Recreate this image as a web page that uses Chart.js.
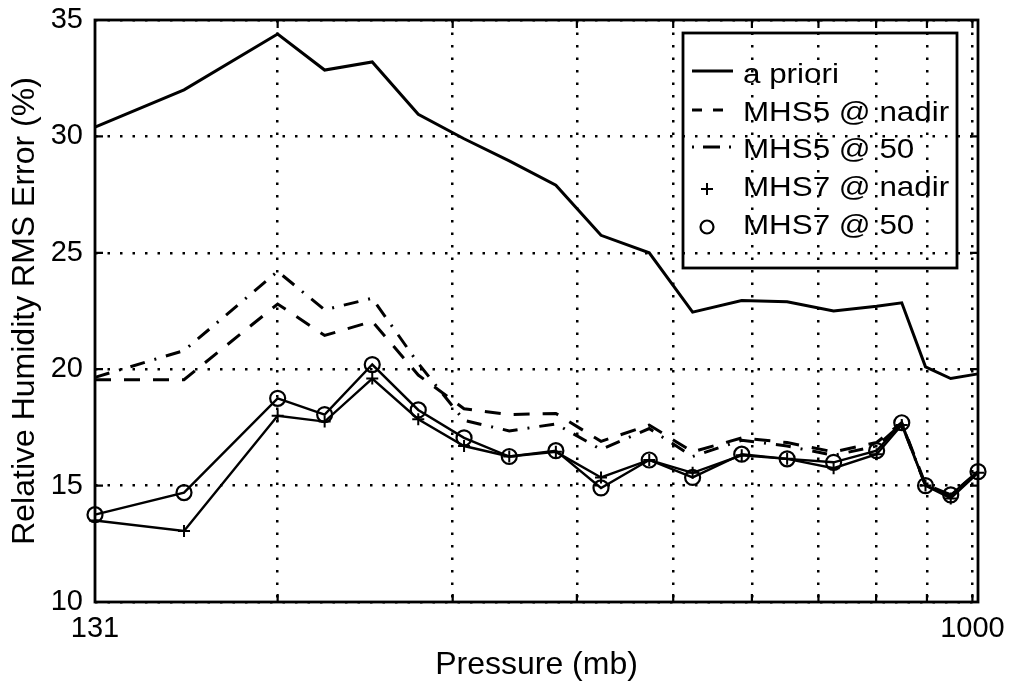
<!DOCTYPE html>
<html>
<head>
<meta charset="utf-8">
<title>Relative Humidity RMS Error</title>
<script src="https://cdn.jsdelivr.net/npm/chart.js@4.4.1/dist/chart.umd.min.js"></script>
<style>
  html, body { margin: 0; padding: 0; background: #fff; }
  #wrap { width: 1013px; height: 687px; }
</style>
</head>
<body>
<div id="wrap"><canvas id="chart" width="1013" height="687"></canvas></div>
<script>
// Pressure levels (mb) and RMS error (%) for each retrieval
const pressure  = [131, 161, 200, 223, 249, 277, 308, 342, 381, 423, 473, 523, 586, 651, 725, 801, 849, 897, 951, 1013];
const aPriori   = [30.4, 32.0, 34.4, 32.85, 33.2, 30.95, 29.9, 28.95, 27.9, 25.75, 25.0, 22.45, 22.95, 22.9, 22.5, 22.7, 22.85, 20.1, 19.6, 19.8];
const mhs5Nadir = [19.55, 19.55, 22.8, 21.45, 22.05, 19.75, 18.3, 18.05, 18.1, 16.9, 17.6, 16.45, 17.05, 16.85, 16.45, 16.85, 17.7, 15.05, 14.6, 15.6];
const mhs5At50  = [19.65, 20.8, 24.2, 22.55, 23.05, 20.25, 17.8, 17.35, 17.65, 16.55, 17.45, 16.25, 16.95, 16.7, 16.3, 16.7, 17.65, 15.0, 14.55, 15.6];
const mhs7Nadir = [13.5, 13.05, 18.0, 17.75, 19.6, 17.85, 16.7, 16.25, 16.45, 15.35, 16.1, 15.55, 16.3, 16.15, 15.75, 16.35, 17.6, 15.0, 14.45, 15.55];
const mhs7At50  = [13.75, 14.7, 18.75, 18.05, 20.2, 18.25, 17.05, 16.25, 16.5, 14.9, 16.1, 15.35, 16.35, 16.15, 16.0, 16.5, 17.7, 15.0, 14.6, 15.6];

const seriesNames = ['a priori', 'MHS5 @ nadir', 'MHS5 @ 50', 'MHS7 @ nadir', 'MHS7 @ 50'];
const xTicks    = [131, 200, 300, 400, 500, 600, 700, 800, 900, 1000];
const xLabelled = [131, 1000];
const yTicks    = [10, 15, 20, 25, 30, 35];

const FONT = '"Liberation Sans", Arial, Helvetica, sans-serif';
Chart.defaults.font.family = FONT;
Chart.defaults.color = '#000';

const pts = vals => pressure.map((p, i) => ({ x: p, y: vals[i] }));

// Box frame, inward tick marks and the in-plot legend
const framePlugin = {
  id: 'frame',
  afterDraw(chart) {
    const { ctx, chartArea: a, scales: { x, y } } = chart;
    ctx.save();
    ctx.strokeStyle = '#000';
    ctx.setLineDash([]);
    ctx.lineWidth = 2.8;
    ctx.strokeRect(a.left, a.top, a.right - a.left, a.bottom - a.top);

    const tl = 8;
    ctx.lineWidth = 2.2;
    ctx.beginPath();
    x.ticks.forEach(t => {
      if (t.value === xTicks[0]) return;
      const px = x.getPixelForValue(t.value);
      ctx.moveTo(px, a.bottom); ctx.lineTo(px, a.bottom - tl);
      ctx.moveTo(px, a.top);    ctx.lineTo(px, a.top + tl);
    });
    y.ticks.forEach(t => {
      const py = y.getPixelForValue(t.value);
      ctx.moveTo(a.left, py);  ctx.lineTo(a.left + tl, py);
      ctx.moveTo(a.right, py); ctx.lineTo(a.right - tl, py);
    });
    ctx.stroke();

    // legend
    const bx = a.right - 295, by = a.top + 13, bw = 274, bh = 235;
    ctx.lineWidth = 2.8;
    ctx.strokeRect(bx, by, bw, bh);
    ctx.beginPath();
    ctx.rect(bx + 1, by + 1, bw - 2, bh - 2);
    ctx.clip();

    const baselines = [50, 88, 125, 163, 201];
    const sx0 = bx + 9, sx1 = bx + 50, mx = bx + 24, tx = bx + 60;
    chart.data.datasets.forEach((ds, i) => {
      const base = by + baselines[i];
      ctx.save();
      ctx.strokeStyle = '#000';
      if (i === 0) {
        ctx.lineWidth = 3; ctx.setLineDash([]);
        ctx.beginPath(); ctx.moveTo(sx0, base - 12); ctx.lineTo(sx1, base - 12); ctx.stroke();
      } else if (i === 1) {
        ctx.lineWidth = 3; ctx.setLineDash([10, 11]);
        ctx.beginPath(); ctx.moveTo(sx0, base - 11); ctx.lineTo(sx0 + 31, base - 11); ctx.stroke();
      } else if (i === 2) {
        ctx.lineWidth = 3; ctx.setLineDash([2, 9, 17, 9, 2, 20]);
        ctx.beginPath(); ctx.moveTo(sx0, base - 11); ctx.lineTo(sx1, base - 11); ctx.stroke();
      } else if (i === 3) {
        ctx.lineWidth = 2; ctx.setLineDash([]);
        ctx.beginPath();
        ctx.moveTo(mx - 6, base - 7); ctx.lineTo(mx + 6, base - 7);
        ctx.moveTo(mx, base - 13); ctx.lineTo(mx, base - 1);
        ctx.stroke();
      } else {
        ctx.lineWidth = 2.2; ctx.setLineDash([]);
        ctx.beginPath(); ctx.arc(mx, base - 7, 6.5, 0, Math.PI * 2); ctx.stroke();
      }
      ctx.fillStyle = '#000';
      ctx.font = '28px ' + FONT;
      ctx.textBaseline = 'alphabetic';
      ctx.textAlign = 'left';
      ctx.translate(tx, base);
      ctx.scale(1.12, 1);
      ctx.fillText(ds.label, 0, 0);
      ctx.restore();
    });
    ctx.restore();
  }
};

new Chart(document.getElementById('chart'), {
  type: 'line',
  data: {
    datasets: [
      { label: seriesNames[0], data: pts(aPriori), borderColor: '#000', borderWidth: 3,
        pointRadius: 0, fill: false, clip: false },
      { label: seriesNames[1], data: pts(mhs5Nadir), borderColor: '#000', borderWidth: 3,
        borderDash: [16, 13], pointRadius: 0, fill: false, clip: false },
      { label: seriesNames[2], data: pts(mhs5At50), borderColor: '#000', borderWidth: 3,
        borderDash: [15, 10, 2, 10], pointRadius: 0, fill: false, clip: false },
      { label: seriesNames[3], data: pts(mhs7Nadir), borderColor: '#000', borderWidth: 2.4,
        pointStyle: 'cross', pointRadius: 6, pointBorderWidth: 2, pointBorderColor: '#000',
        fill: false, clip: false },
      { label: seriesNames[4], data: pts(mhs7At50), borderColor: '#000', borderWidth: 2.4,
        pointStyle: 'circle', pointRadius: 7.5, pointBorderWidth: 2.2, pointBorderColor: '#000',
        pointBackgroundColor: 'rgba(0,0,0,0)', fill: false, clip: false }
    ]
  },
  options: {
    responsive: false,
    animation: false,
    devicePixelRatio: 1,
    layout: { padding: { top: 20, right: 35, bottom: 0, left: 0 } },
    elements: { line: { tension: 0 } },
    plugins: { legend: { display: false }, tooltip: { enabled: false } },
    scales: {
      x: {
        type: 'logarithmic',
        min: 131,
        max: 1013,
        afterBuildTicks: s => { s.ticks = xTicks.map(v => ({ value: v })); },
        afterFit: s => { s.height = 85; s.paddingLeft = 0; s.paddingRight = 0; },
        ticks: {
          autoSkip: false, maxRotation: 0, minRotation: 0, padding: 10,
          font: { size: 29 }, color: '#000',
          callback: v => xLabelled.includes(v) ? String(v) : ''
        },
        grid: {
          drawTicks: false, lineWidth: 2.5,
          color: c => (c.tick && c.tick.value === xTicks[0]) ? 'rgba(0,0,0,0)' : '#000'
        },
        border: { display: false, dash: [2.5, 10] },
        title: { display: true, text: 'Pressure (mb)', font: { size: 32 }, color: '#000',
                 padding: { top: 0, bottom: 3 } }
      },
      y: {
        min: 10,
        max: 35,
        afterBuildTicks: s => { s.ticks = yTicks.map(v => ({ value: v })); },
        afterFit: s => { s.width = 95; s.paddingTop = 0; s.paddingBottom = 0; },
        ticks: { padding: 12, font: { size: 29 }, color: '#000' },
        grid: { drawTicks: false, lineWidth: 2.5, color: '#000' },
        border: { display: false, dash: [2.5, 10] },
        title: { display: true, text: 'Relative Humidity RMS Error (%)', font: { size: 32 },
                 color: '#000', padding: { top: 6, bottom: 0 } }
      }
    }
  },
  plugins: [framePlugin]
});
</script>
</body>
</html>
